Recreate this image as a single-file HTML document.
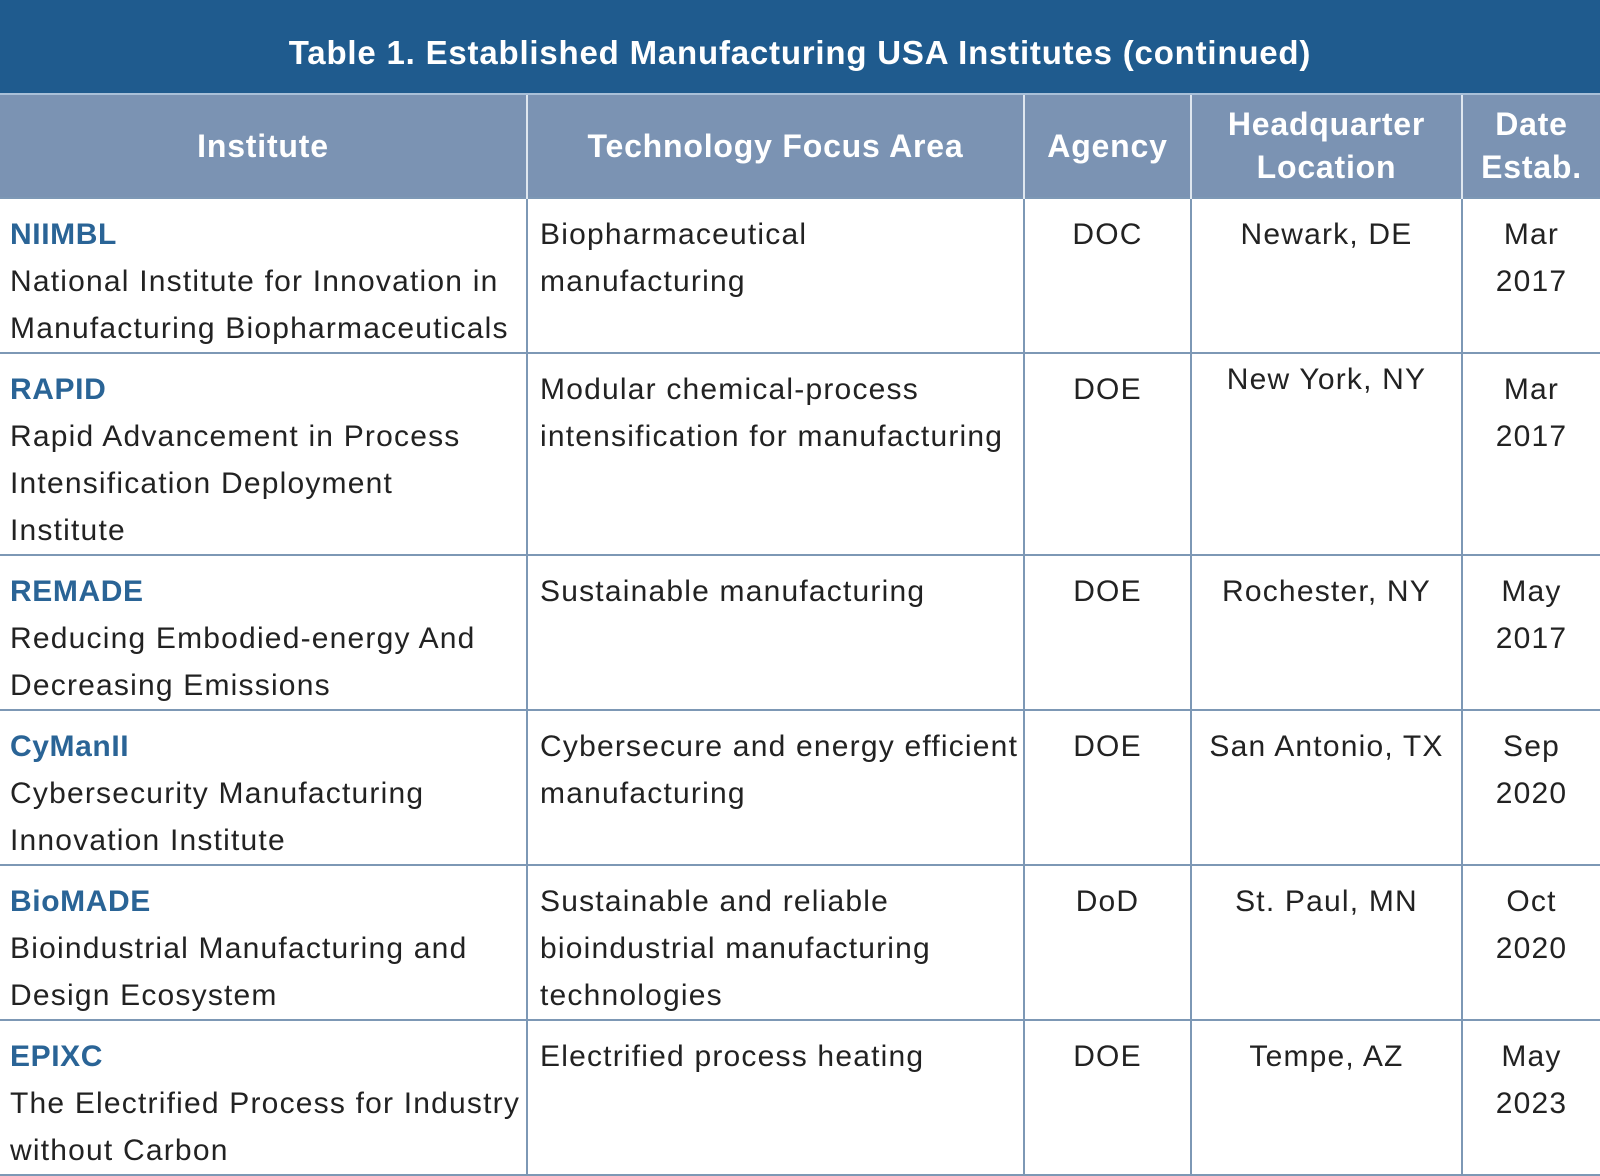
<!DOCTYPE html>
<html><head><meta charset="utf-8">
<style>
html,body{margin:0;padding:0;background:#fff;width:1600px;height:1172px;overflow:hidden}
body{font-family:"Liberation Sans",sans-serif}
.title{position:absolute;left:0;top:0;width:1600px;height:95px;background:#1f5b8e;color:#fff;font-weight:bold;font-size:33px;letter-spacing:0.8px;text-align:center;line-height:106px;border-bottom:2px solid #a9c0d8;box-sizing:border-box}
table{position:absolute;left:0;top:95px;width:1600px;border-collapse:collapse;table-layout:fixed}
th{background:#7b93b3;color:#fff;font-size:32px;letter-spacing:0.8px;font-weight:bold;line-height:43px;height:102px;padding:0;border-left:2px solid #dfe7ef;border-right:2px solid #dfe7ef}
td{vertical-align:top;font-size:30px;letter-spacing:1.2px;line-height:47px;color:#222;padding:12px 0 0 0;border:2px solid #7d98b5;box-sizing:border-box;white-space:nowrap;overflow:visible}
td.l{padding-left:10px}
td.m{padding-left:12px}
td.c{text-align:center}
.acr{color:#2a6496;font-weight:bold;letter-spacing:0.6px}
tr>*:first-child{border-left:none}
tr>*:last-child{border-right:none}
</style></head><body>
<div class="title">Table 1. Established Manufacturing USA Institutes (continued)</div>
<table>
<colgroup><col style="width:527px"><col style="width:497px"><col style="width:167px"><col style="width:271px"><col style="width:138px"></colgroup>
<tr>
<th>Institute</th>
<th>Technology Focus Area</th>
<th>Agency</th>
<th>Headquarter<br>Location</th>
<th>Date<br>Estab.</th>
</tr>
<tr style="height:155px">
<td class="l"><span class="acr">NIIMBL</span><br>National Institute for Innovation in<br>Manufacturing Biopharmaceuticals</td>
<td class="m">Biopharmaceutical<br>manufacturing</td>
<td class="c">DOC</td>
<td class="c">Newark, DE</td>
<td class="c">Mar<br>2017</td>
</tr>
<tr style="height:202px">
<td class="l"><span class="acr">RAPID</span><br>Rapid Advancement in Process<br>Intensification Deployment<br>Institute</td>
<td class="m">Modular chemical-process<br>intensification for manufacturing</td>
<td class="c">DOE</td>
<td class="c" style="padding-top:2px">New York, NY</td>
<td class="c">Mar<br>2017</td>
</tr>
<tr style="height:155px">
<td class="l"><span class="acr">REMADE</span><br>Reducing Embodied-energy And<br>Decreasing Emissions</td>
<td class="m">Sustainable manufacturing</td>
<td class="c">DOE</td>
<td class="c">Rochester, NY</td>
<td class="c">May<br>2017</td>
</tr>
<tr style="height:155px">
<td class="l"><span class="acr">CyManII</span><br>Cybersecurity Manufacturing<br>Innovation Institute</td>
<td class="m">Cybersecure and energy efficient<br>manufacturing</td>
<td class="c">DOE</td>
<td class="c">San Antonio, TX</td>
<td class="c">Sep<br>2020</td>
</tr>
<tr style="height:154px">
<td class="l"><span class="acr">BioMADE</span><br>Bioindustrial Manufacturing and<br>Design Ecosystem</td>
<td class="m">Sustainable and reliable<br>bioindustrial manufacturing<br>technologies</td>
<td class="c">DoD</td>
<td class="c">St. Paul, MN</td>
<td class="c">Oct<br>2020</td>
</tr>
<tr style="height:154px">
<td class="l"><span class="acr">EPIXC</span><br>The Electrified Process for Industry<br>without Carbon</td>
<td class="m">Electrified process heating</td>
<td class="c">DOE</td>
<td class="c">Tempe, AZ</td>
<td class="c">May<br>2023</td>
</tr>
</table>
</body></html>
